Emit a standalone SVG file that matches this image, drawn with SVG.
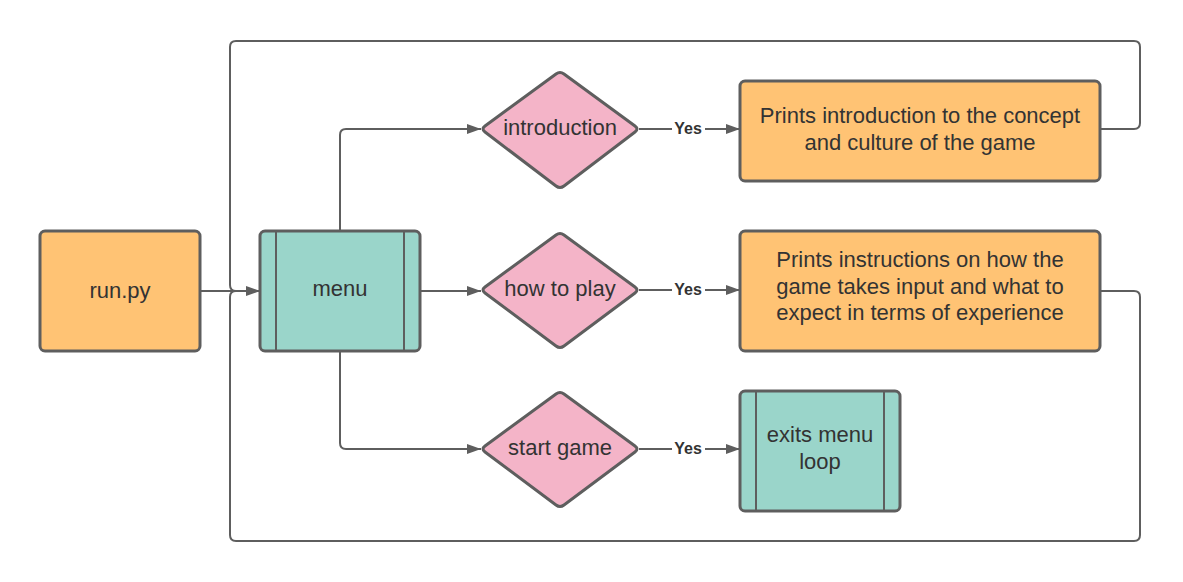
<svg xmlns="http://www.w3.org/2000/svg" width="1183" height="582" viewBox="0 0 1183 582">
<defs>
<marker id="arr" viewBox="0 0 14 10" refX="14" refY="5" markerWidth="14" markerHeight="10" markerUnits="userSpaceOnUse" orient="auto">
<path d="M0,0 L14,5 L0,10 Z" fill="#5e5e5e"/>
</marker>
<style>
.proc{fill:#FFC374;stroke:#5e5e5e;stroke-width:3}
.sub{fill:#9AD5CA;stroke:#5e5e5e;stroke-width:3}
.dec{fill:#F4B4C8;stroke:#5e5e5e;stroke-width:3;stroke-linejoin:round}
.line{fill:none;stroke:#5e5e5e;stroke-width:2}
.t{font-family:"Liberation Sans",Arial,sans-serif;font-size:22px;fill:#333333;text-anchor:middle}
.yes{font-family:"Liberation Sans",Arial,sans-serif;font-size:16px;font-weight:bold;fill:#333333;text-anchor:middle}
</style>
</defs>
<rect width="1183" height="582" fill="#ffffff"/>
<g id="connectors">
<path class="line" d="M200,291 L260,291" marker-end="url(#arr)"/>
<path class="line" d="M340,231 L340,135 Q340,129 346,129 L481,129" marker-end="url(#arr)"/>
<path class="line" d="M420,291 L481,291" marker-end="url(#arr)"/>
<path class="line" d="M340,351 L340,443 Q340,449 346,449 L481,449" marker-end="url(#arr)"/>
<path class="line" d="M639,129 L740,129" marker-end="url(#arr)"/>
<path class="line" d="M639,290 L740,290" marker-end="url(#arr)"/>
<path class="line" d="M639,449 L740,449" marker-end="url(#arr)"/>
<path class="line" d="M1100,129 L1134,129 Q1140,129 1140,123 L1140,47 Q1140,41 1134,41 L236,41 Q230,41 230,47 L230,285 Q230,291 236,291 L246,291"/>
<path class="line" d="M1100,291 L1134,291 Q1140,291 1140,297 L1140,535 Q1140,541 1134,541 L236,541 Q230,541 230,535 L230,297 Q230,291 236,291"/>
<rect x="672" y="119" width="33" height="20" fill="#ffffff"/>
<text class="yes" x="688" y="134">Yes</text>
<rect x="672" y="280" width="33" height="20" fill="#ffffff"/>
<text class="yes" x="688" y="295">Yes</text>
<rect x="672" y="439" width="33" height="20" fill="#ffffff"/>
<text class="yes" x="688" y="454">Yes</text>
</g>
<g id="run">
<rect class="proc" x="40" y="231" width="160" height="120" rx="5"/>
<text class="t" x="120" y="298">run.py</text>
</g>
<g id="menu">
<rect class="sub" x="260" y="231" width="160" height="120" rx="5"/>
<line class="line" x1="276" y1="231" x2="276" y2="351" stroke-width="3"/>
<line class="line" x1="404" y1="231" x2="404" y2="351" stroke-width="3"/>
<text class="t" x="340" y="296">menu</text>
</g>
<g id="introduction">
<path class="dec" d="M556,74 Q560,71 564,74 L635,126 Q639,129 635,132 L564,186 Q560,189 556,186 L485,132 Q481,129 485,126 Z"/>
<text class="t" x="560" y="135">introduction</text>
</g>
<g id="howtoplay">
<path class="dec" d="M556,235 Q560,232 564,235 L635,287 Q639,290 635,293 L564,346 Q560,349 556,346 L485,293 Q481,290 485,287 Z"/>
<text class="t" x="560" y="296">how to play</text>
</g>
<g id="startgame">
<path class="dec" d="M556,394 Q560,391 564,394 L635,446 Q639,449 635,452 L564,505 Q560,508 556,505 L485,452 Q481,449 485,446 Z"/>
<text class="t" x="560" y="455">start game</text>
</g>
<g id="introbox">
<rect class="proc" x="740" y="81" width="360" height="100" rx="5"/>
<text class="t" x="920" y="123">Prints introduction to the concept</text>
<text class="t" x="920" y="150">and culture of the game</text>
</g>
<g id="howbox">
<rect class="proc" x="740" y="231" width="360" height="120" rx="5"/>
<text class="t" x="920" y="267">Prints instructions on how the</text>
<text class="t" x="920" y="294">game takes input and what to</text>
<text class="t" x="920" y="320">expect in terms of experience</text>
</g>
<g id="exits">
<rect class="sub" x="740" y="391" width="160" height="120" rx="5"/>
<line class="line" x1="756" y1="391" x2="756" y2="511" stroke-width="3"/>
<line class="line" x1="884" y1="391" x2="884" y2="511" stroke-width="3"/>
<text class="t" x="820" y="442">exits menu</text>
<text class="t" x="820" y="469">loop</text>
</g>
</svg>
